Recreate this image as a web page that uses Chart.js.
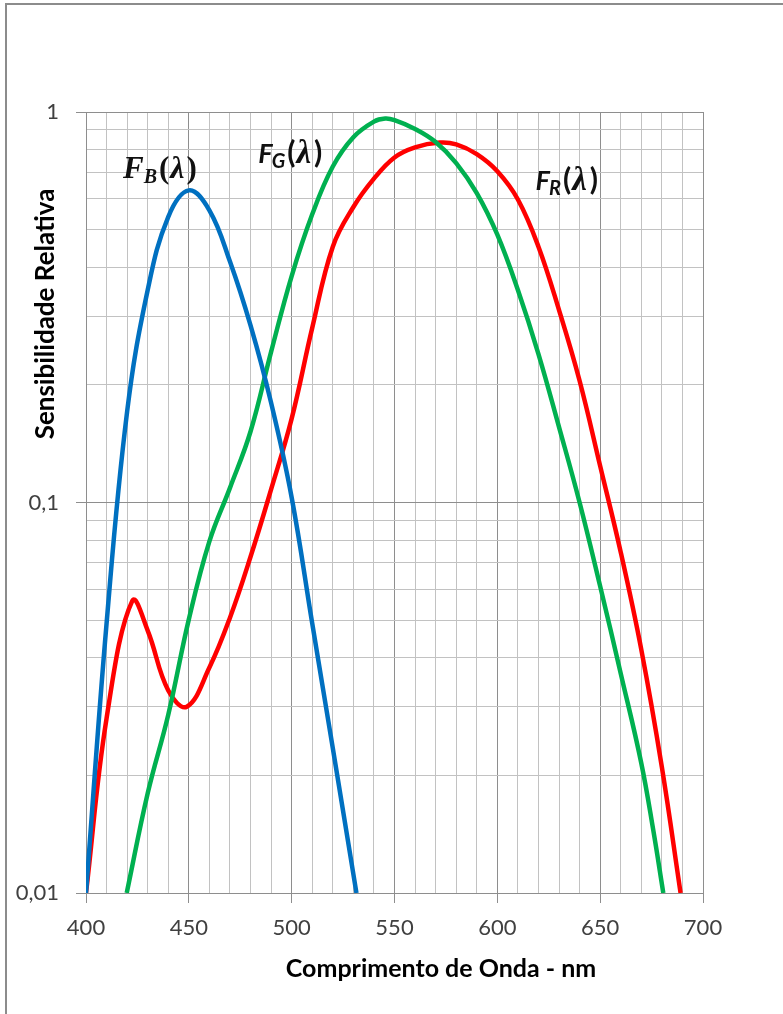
<!DOCTYPE html>
<html>
<head>
<meta charset="utf-8">
<script src="https://cdn.jsdelivr.net/npm/chart.js@4.4.1/dist/chart.umd.min.js"></script>
<style>
  html, body { margin: 0; padding: 0; background: #fff; }
  #frame {
    position: absolute; left: 5px; top: 3px; width: 2000px; height: 2000px;
    border-left: 2px solid #8c8c8c; border-top: 2px solid #8c8c8c;
  }
  #wrap { position: absolute; left: 0; top: 0; width: 783px; height: 1014px; }
</style>
</head>
<body>
<div id="frame"></div>
<div id="wrap"><canvas id="chart"></canvas></div>
<script>
/* Relative sensitivity curves, log scale, 400–700 nm */

const wavelengthB = [400, 410, 420, 430, 440, 450, 460, 470, 480, 490, 500, 510, 520, 531.5];
const sensitivityB = [0.01, 0.049, 0.171, 0.35, 0.539, 0.63, 0.56, 0.414, 0.284, 0.18, 0.103, 0.049, 0.0235, 0.01];

const wavelengthG = [419.8, 430, 440, 450, 460, 470, 480, 490, 500, 510, 520, 530, 540, 545.5, 550, 560, 570, 580, 590, 600, 610, 620, 630, 640, 650, 660, 670, 675.8, 680.7];
const sensitivityG = [0.01, 0.018, 0.0286, 0.0502, 0.0795, 0.109, 0.152, 0.243, 0.38, 0.547, 0.725, 0.862, 0.945, 0.962, 0.953, 0.905, 0.838, 0.74, 0.62, 0.485, 0.35, 0.24, 0.156, 0.1, 0.061, 0.0365, 0.0215, 0.0145, 0.01];

const wavelengthR = [400, 410, 422.5, 430, 440, 449, 460, 470, 480, 490, 500, 510, 520, 530, 540, 550, 560, 572, 580, 590, 600, 610, 620, 630, 640, 650, 660, 670, 680, 689.1];
const sensitivityR = [0.01, 0.028, 0.056, 0.047, 0.033, 0.03, 0.0378, 0.0507, 0.0726, 0.108, 0.164, 0.28, 0.452, 0.571, 0.675, 0.765, 0.812, 0.835, 0.826, 0.78, 0.705, 0.597, 0.452, 0.311, 0.205, 0.124, 0.0746, 0.042, 0.021, 0.01];

const xTickValues = [400, 410, 420, 430, 440, 450, 460, 470, 480, 490, 500, 510, 520, 530, 540, 550, 560, 570, 580, 590, 600, 610, 620, 630, 640, 650, 660, 670, 680, 690, 700];
const yTickValues = [0.01, 0.02, 0.03, 0.04, 0.05, 0.06, 0.07, 0.08, 0.09, 0.1, 0.2, 0.3, 0.4, 0.5, 0.6, 0.7, 0.8, 0.9, 1];

const COLORS = { blue: "#0070C0", green: "#00B050", red: "#FF0000" };
const GRID_MINOR = "#c2c2c2";
const GRID_MAJOR = "#8e8e8e";
const TICK_FONT = { family: "Lato", size: 22 };

const toPoints = (xs, ys) => xs.map((x, i) => ({ x, y: ys[i] }));
const isDecade = (v) => Math.abs(Math.log10(v) - Math.round(Math.log10(v))) < 1e-6;

function series(label, xs, ys, color) {
  return {
    label,
    data: toPoints(xs, ys),
    borderColor: color,
    borderWidth: 4.5,
    pointRadius: 0,
    tension: 0.4,
    fill: false,
  };
}

// curve names and axis titles, drawn on top of the plot
const annotations = {
  id: "annotations",
  afterDraw(chart) {
    const { ctx, chartArea, scales } = chart;
    const xs = scales.x, ys = scales.y;

    const serifLabel = (sub) => [
      { t: "F", f: "italic bold 31px 'Liberation Serif'", dy: 0, gap: 0 },
      { t: sub, f: "italic bold 20px 'Liberation Serif'", dy: 5, gap: 2 },
      { t: "(", f: "bold 31px 'Liberation Serif'", dy: 0, gap: 1 },
      { t: "\u03bb", f: "italic bold 32px 'Liberation Serif'", dy: 0, gap: 2 },
      { t: ")", f: "bold 31px 'Liberation Serif'", dy: 0, gap: 0 },
    ];
    const sansLabel = (sub) => [
      { t: "F", f: "italic bold 27px Lato", dy: 0, gap: -1 },
      { t: sub, f: "italic bold 20px Lato", dy: 5, gap: 2 },
      { t: "(", f: "bold 30px Lato", dy: 0, gap: 1 },
      { t: "\u03bb", f: "italic bold 33px 'Liberation Serif'", dy: 0, gap: 3 },
      { t: ")", f: "bold 30px Lato", dy: 0, gap: 0 },
    ];
    const labels = [
      { x: 418.0, y: 0.678, parts: serifLabel("B") },
      { x: 483.8, y: 0.742, parts: sansLabel("G") },
      { x: 618.6, y: 0.632, parts: sansLabel("R") },
    ];
    ctx.save();
    ctx.fillStyle = "#111";
    ctx.textBaseline = "alphabetic";
    ctx.textAlign = "left";
    labels.forEach((l) => {
      let px = xs.getPixelForValue(l.x);
      const py = ys.getPixelForValue(l.y);
      l.parts.forEach((p) => {
        ctx.font = p.f;
        ctx.fillText(p.t, px, py + p.dy);
        px += ctx.measureText(p.t).width + p.gap;
      });
    });

    ctx.fillStyle = "#000";
    ctx.textAlign = "center";
    ctx.font = "bold 25px Lato";
    ctx.fillText("Comprimento de Onda - nm", chartArea.left + 355, chartArea.bottom + 84);

    ctx.translate(46, 314);
    ctx.rotate(-Math.PI / 2);
    ctx.textBaseline = "middle";
    ctx.font = "bold 26px Lato";
    ctx.fillText("Sensibilidade Relativa", 0, 0);
    ctx.restore();
  },
};

new Chart(document.getElementById("chart"), {
  type: "line",
  data: {
    datasets: [
      series("F_B", wavelengthB, sensitivityB, COLORS.blue),
      series("F_G", wavelengthG, sensitivityG, COLORS.green),
      series("F_R", wavelengthR, sensitivityR, COLORS.red),
    ],
  },
  options: {
    responsive: true,
    maintainAspectRatio: false,
    animation: false,
    layout: { padding: { left: 0, top: 112, right: 80, bottom: 0 } },
    plugins: { legend: { display: false }, tooltip: { enabled: false } },
    scales: {
      x: {
        type: "linear",
        min: 400,
        max: 700,
        afterBuildTicks: (s) => { s.ticks = xTickValues.map((value) => ({ value })); },
        afterFit: (s) => { s.height = 121; },
        border: { color: GRID_MAJOR },
        grid: {
          color: (c) => (c.tick && c.tick.value % 50 === 0 ? GRID_MAJOR : GRID_MINOR),
          tickColor: (c) => (c.tick && c.tick.value % 50 === 0 ? GRID_MAJOR : "rgba(0,0,0,0)"),
          tickLength: 10,
          lineWidth: 1,
        },
        ticks: {
          autoSkip: false,
          maxRotation: 0,
          padding: 12,
          color: "#404040",
          font: TICK_FONT,
          callback: (v) => (v % 50 === 0 ? String(v) : ""),
        },
      },
      y: {
        type: "logarithmic",
        min: 0.01,
        max: 1,
        afterBuildTicks: (s) => { s.ticks = yTickValues.map((value) => ({ value, major: isDecade(value) })); },
        afterFit: (s) => { s.width = 86; },
        border: { color: GRID_MAJOR },
        grid: {
          color: (c) => (c.tick && isDecade(c.tick.value) ? GRID_MAJOR : GRID_MINOR),
          tickColor: (c) => (c.tick && isDecade(c.tick.value) ? GRID_MAJOR : "rgba(0,0,0,0)"),
          tickLength: 10,
          lineWidth: 1,
        },
        ticks: {
          autoSkip: false,
          padding: 17,
          color: "#404040",
          font: TICK_FONT,
          callback: (v) => (isDecade(v) ? String(v).replace(".", ",") : ""),
        },
      },
    },
  },
  plugins: [annotations],
});
</script>
</body>
</html>
